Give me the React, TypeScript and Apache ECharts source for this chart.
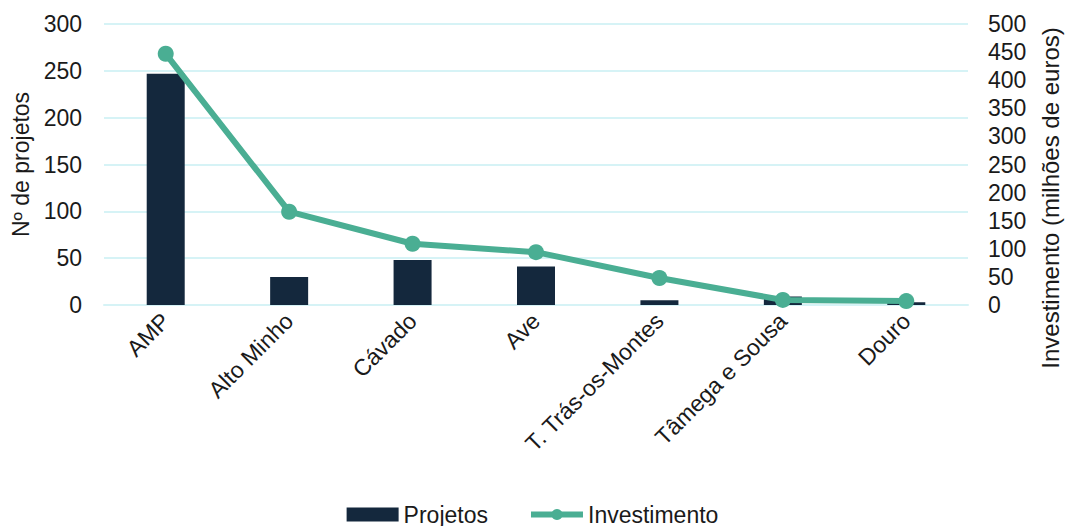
import React, { useEffect, useRef } from "react";
import * as echarts from "echarts";

const categories = ["AMP", "Alto Minho", "Cávado", "Ave", "T. Trás-os-Montes", "Tâmega e Sousa", "Douro"];
const projetos = [247, 30, 48, 41, 5, 9, 3];
const investimento = [447, 166, 109, 94, 48, 9, 7];

const FONT = "Liberation Sans, Arial, sans-serif";
const TXT = "#1a1a1a";

export default function App() {
  const ref = useRef<HTMLDivElement>(null);
  useEffect(() => {
    document.body.style.margin = "0";
    const chart = echarts.init(ref.current!, null, { renderer: "svg" });
    chart.setOption({
      animation: false,
      textStyle: { fontFamily: FONT },
      grid: { left: 104, right: 97, top: 24, bottom: 221, containLabel: false },
      legend: {
        bottom: -5,
        left: "center",
        itemWidth: 52,
        itemHeight: 14,
        itemGap: 40,
        textStyle: { fontSize: 23, color: TXT, fontFamily: FONT },
        data: [
          { name: "Projetos", icon: "rect" },
          { name: "Investimento", lineStyle: { width: 6 } },
        ],
      },
      xAxis: {
        type: "category",
        data: categories,
        axisTick: { show: false },
        axisLine: { show: true, lineStyle: { color: "#d6f3f6", width: 2 } },
        axisLabel: { rotate: 45, fontSize: 23, color: TXT, margin: 12, interval: 0, fontFamily: FONT },
      },
      yAxis: [
        {
          type: "value",
          min: 0,
          max: 300,
          interval: 50,
          name: "Nº de projetos",
          nameLocation: "middle",
          nameGap: 66,
          nameTextStyle: { fontSize: 23, color: TXT, fontFamily: FONT },
          axisLine: { show: false },
          axisTick: { show: false },
          axisLabel: { fontSize: 23, color: TXT, margin: 22, fontFamily: FONT },
          splitLine: { lineStyle: { color: "#d6f3f6", width: 2 } },
        },
        {
          type: "value",
          min: 0,
          max: 500,
          interval: 50,
          position: "right",
          axisLine: { show: false },
          axisTick: { show: false },
          axisLabel: { fontSize: 23, color: TXT, margin: 20, fontFamily: FONT },
          splitLine: { show: false },
        },
      ],
      graphic: [
        {
          type: "text",
          x: 1050,
          y: 198,
          rotation: Math.PI / 2,
          style: {
            text: "Investimento (milhões de euros)",
            fontSize: 24,
            fill: TXT,
            fontFamily: FONT,
            align: "center",
            verticalAlign: "middle",
          },
        },
      ],
      series: [
        {
          name: "Projetos",
          type: "bar",
          data: projetos,
          barWidth: 38,
          itemStyle: { color: "#14283d" },
          yAxisIndex: 0,
        },
        {
          name: "Investimento",
          type: "line",
          data: investimento,
          yAxisIndex: 1,
          symbol: "circle",
          symbolSize: 16,
          lineStyle: { color: "#4aae93", width: 6 },
          itemStyle: { color: "#4aae93" },
        },
      ],
    });
    return () => chart.dispose();
  }, []);
  return <div ref={ref} style={{ width: 1065, height: 526 }} />;
}
